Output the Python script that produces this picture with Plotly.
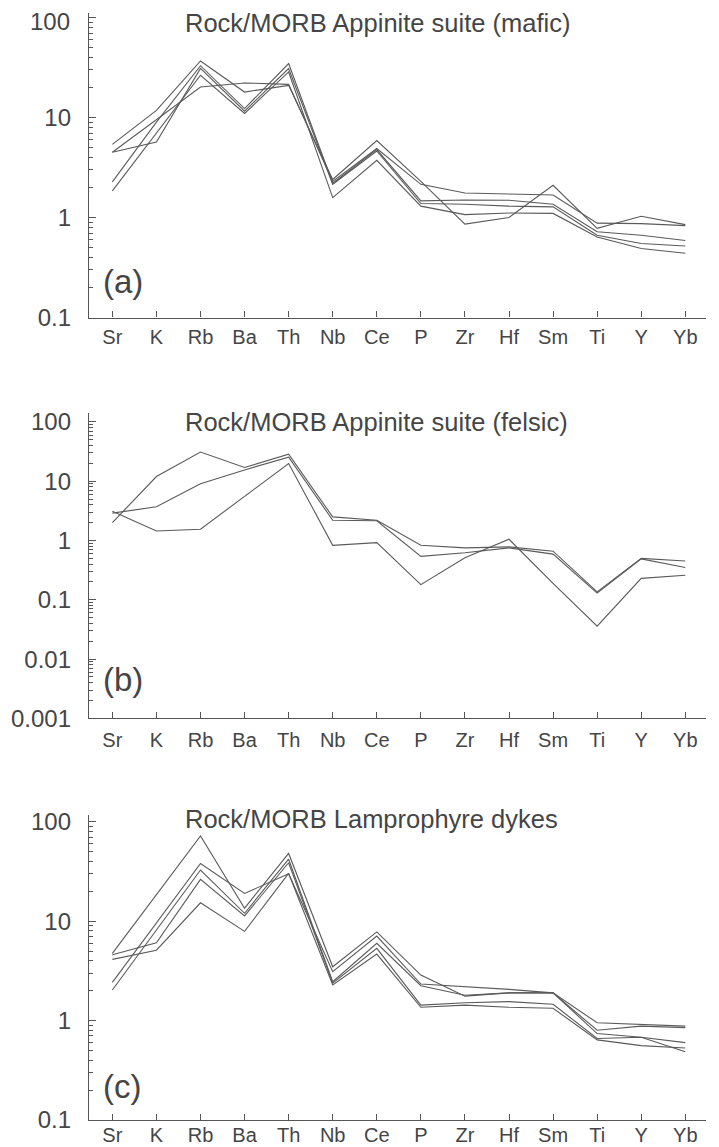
import plotly.graph_objects as go

# ---------------- data ----------------
elements = ["Sr", "K", "Rb", "Ba", "Th", "Nb", "Ce", "P", "Zr", "Hf", "Sm", "Ti", "Y", "Yb"]

# (a) Appinite suite (mafic), Rock/MORB
mafic_1 = [5.4, 11.8, 36.8, 18.0, 21.0, 2.4, 5.9, 2.3, 0.86, 1.0, 2.1, 0.78, 1.03, 0.85]
mafic_2 = [4.5, 9.5, 20.2, 22.2, 21.5, 2.3, 4.9, 2.15, 1.76, 1.72, 1.68, 0.88, 0.87, 0.83]
mafic_3 = [2.27, 9.0, 33.0, 12.3, 34.7, 2.2, 4.78, 1.47, 1.5, 1.49, 1.36, 0.72, 0.665, 0.59]
mafic_4 = [4.5, 5.7, 31.0, 11.6, 30.9, 2.15, 4.63, 1.38, 1.36, 1.3, 1.28, 0.665, 0.55, 0.52]
mafic_5 = [1.85, 7.0, 26.5, 11.0, 28.6, 1.58, 3.74, 1.3, 1.07, 1.11, 1.1, 0.64, 0.49, 0.44]

# (b) Appinite suite (felsic), Rock/MORB
felsic_1 = [2.0, 12.0, 31.0, 17.0, 28.5, 2.5, 2.2, 0.83, 0.75, 0.78, 0.66, 0.136, 0.5, 0.45]
felsic_2 = [2.9, 3.7, 9.1, 15.5, 25.5, 2.2, 2.15, 0.54, 0.62, 0.75, 0.59, 0.13, 0.49, 0.35]
felsic_3 = [3.1, 1.45, 1.55, 5.6, 19.9, 0.83, 0.92, 0.18, 0.51, 1.05, 0.19, 0.036, 0.23, 0.26]

# (c) Lamprophyre dykes, Rock/MORB
lamp_1 = [4.74, 18.3, 72.0, 13.5, 48.0, 3.48, 7.8, 2.87, 1.76, 1.9, 1.9, 0.95, 0.92, 0.88]
lamp_2 = [2.42, 9.5, 38.0, 19.0, 30.0, 3.1, 7.08, 2.33, 2.19, 2.06, 1.9, 0.80, 0.88, 0.85]
lamp_3 = [2.03, 8.1, 32.7, 12.0, 42.0, 2.46, 5.98, 2.24, 1.8, 1.9, 1.9, 0.74, 0.68, 0.6]
lamp_4 = [4.6, 6.07, 26.3, 11.3, 38.7, 2.38, 5.33, 1.43, 1.51, 1.55, 1.46, 0.66, 0.68, 0.485]
lamp_5 = [4.13, 5.1, 15.3, 7.9, 30.2, 2.28, 4.67, 1.36, 1.43, 1.36, 1.33, 0.64, 0.56, 0.53]

titles = ["Rock/MORB Appinite suite (mafic)",
          "Rock/MORB Appinite suite (felsic)",
          "Rock/MORB Lamprophyre dykes"]
panel_tags = ["(a)", "(b)", "(c)"]

# ---------------- style ----------------
LINE = "#5a5a5a"
AX = "#555555"
TXT = "#454545"
FONT = "Liberation Sans, Arial, sans-serif"

fig = go.Figure()

panels = [
    ([mafic_1, mafic_2, mafic_3, mafic_4, mafic_5], "x", "y"),
    ([felsic_1, felsic_2, felsic_3], "x2", "y2"),
    ([lamp_1, lamp_2, lamp_3, lamp_4, lamp_5], "x3", "y3"),
]
for series, xa, ya in panels:
    for s in series:
        fig.add_trace(go.Scatter(x=elements, y=s, mode="lines", xaxis=xa, yaxis=ya,
                                 line=dict(color=LINE, width=1.1), showlegend=False,
                                 hoverinfo="skip"))

# page body has an 8px margin: shrink the figure so it sits where the reference does
OFF = 8
W, H = 719 - OFF, 1147 - OFF
T, B = 12.7 - OFF, 27.0
L, R = 89 - OFF, 13
PH = H - T - B


def py(ypix):
    # ypix is a pixel row in the reference picture
    return (1147 - B - ypix) / PH


domains = [(py(317.3), py(12.7)), (py(718.3), py(413.0)), (py(1120.0), py(815.0))]
ranges = [[-1, 2.046], [-3, 2.147], [-1, 2.067]]
decades = [[0.1, 1, 10, 100], [0.001, 0.01, 0.1, 1, 10, 100], [0.1, 1, 10, 100]]
# top label of panel (a) sits a little below its tick (as in the reference): drawn as an annotation
labels = [["0.1", "1", "10", ""], ["0.001", "0.01", "0.1", "1", "10", "100"],
          ["0.1", "1", "10", "100"]]
xstandoff = [1, 3, -3]

layout = {}
for i in range(3):
    sfx = "" if i == 0 else str(i + 1)
    minor_vals = [m * d for d in decades[i][:-1] for m in range(2, 10)]
    layout["xaxis" + sfx] = dict(
        domain=[0, 1], anchor="y" + sfx, type="category", automargin=False,
        range=[-0.53, 13.47], showline=True, linecolor=AX, linewidth=1.3,
        ticks="inside", ticklen=6, tickwidth=1.2, tickcolor=AX,
        showgrid=False, zeroline=False, ticklabelstandoff=xstandoff[i],
        ticklabeloverflow="allow",
        tickfont=dict(family=FONT, size=20, color=TXT),
    )
    layout["yaxis" + sfx] = dict(
        domain=list(domains[i]), anchor="x" + sfx, type="log", automargin=False,
        range=ranges[i], showline=True, linecolor=AX, linewidth=1.3,
        tickmode="array", tickvals=decades[i], ticktext=labels[i],
        ticks="inside", ticklen=7, tickwidth=1.2, tickcolor=AX,
        minor=dict(tickmode="array", tickvals=minor_vals, ticks="inside",
                   ticklen=4, tickwidth=1.0, tickcolor=AX, showgrid=False),
        showgrid=False, zeroline=False, ticklabelstandoff=12,
        ticklabeloverflow="allow",
        tickfont=dict(family=FONT, size=24, color=TXT),
    )

title_y = [py(22.5), py(422.0), py(819.0)]
tag_y = [py(281.0), py(679.0), py(1086.7)]
annotations = []
for i in range(3):
    annotations.append(dict(text=titles[i], xref="paper", yref="paper",
                            x=(183 - 89) / 617, y=title_y[i], xanchor="left",
                            yanchor="middle", showarrow=False,
                            font=dict(family=FONT, size=25.5, color=TXT)))
    annotations.append(dict(text=panel_tags[i], xref="paper", yref="paper",
                            x=(101 - 89) / 617, y=tag_y[i], xanchor="left",
                            yanchor="middle", showarrow=False,
                            font=dict(family=FONT, size=33, color=TXT)))
annotations.append(dict(text="100", xref="paper", yref="paper",
                        x=(72 - 89) / 617, y=py(21.5), xanchor="right",
                        yanchor="middle", showarrow=False,
                        font=dict(family=FONT, size=24, color=TXT)))

fig.update_layout(
    width=W, height=H,
    margin=dict(l=L, r=R, t=T, b=B, autoexpand=False),
    paper_bgcolor="white", plot_bgcolor="white",
    showlegend=False, annotations=annotations, **layout,
)

fig.write_html("out.html")
